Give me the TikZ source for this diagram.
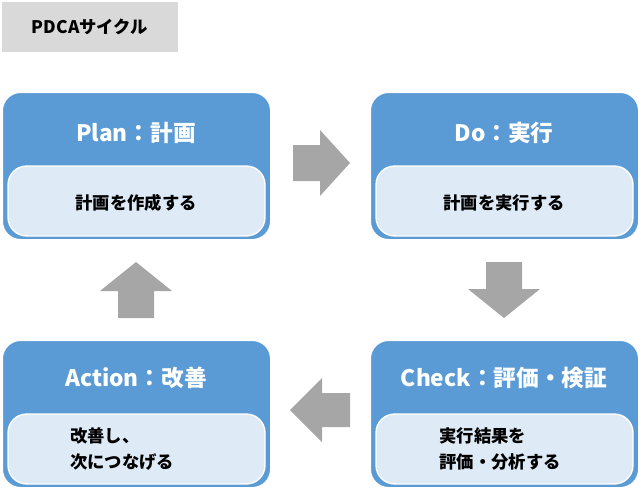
\documentclass[tikz,border=0pt]{standalone}
\usepackage{fontspec}
\setmainfont{Noto Sans CJK JP}
\usetikzlibrary{shapes.arrows}
\definecolor{bb}{HTML}{5B9BD5}
\definecolor{lb}{HTML}{DEEBF7}
\definecolor{ga}{HTML}{A6A6A6}
\definecolor{gt}{HTML}{D9D9D9}
\begin{document}
\begin{tikzpicture}[x=0.75pt,y=-0.75pt,
 outer/.style={draw=white,line width=1.5pt,fill=bb,rounded corners=14pt},
 inner/.style={draw=white,line width=1pt,fill=lb,rounded corners=14pt},
 ttl/.style={text=white,font=\bfseries\fontsize{17}{19}\selectfont},
 body/.style={text=black,font=\bfseries\fontsize{13}{19}\selectfont,align=left},
 arr/.style={fill=ga,draw=none}]
\useasboundingbox (0,0) rectangle (641,489);
\fill[gt] (2,2) rectangle (178,52);
\node[font=\bfseries\fontsize{13}{15}\selectfont] (t) at (90,27) {PDCAサイクル};
\foreach \n/\x/\y in {p/2/92,d/370/92,c/370/340,a/2/340}{
 \draw[outer] (\x,\y) rectangle ++(269,148);
 \draw[inner] (\x+6,\y+74) rectangle ++(257,70);
}
\node[ttl] (pt) at (136,133) {Plan：計画};
\node[body] (pb) at (136,203) {計画を作成する};
\node[ttl] (dt) at (504,133) {Do：実行};
\node[body] (db) at (504,203) {計画を実行する};
\node[ttl] (ct) at (504,378) {Check：評価・検証};
\node[body] (cb) at (500,449) {実行結果を\\評価・分析する};
\node[ttl] (at) at (136,378) {Action：改善};
\node[body] (ab) at (122,449) {改善し、\\次につなげる};
\fill[arr] (293,145)--(320,145)--(320,130)--(350,163)--(320,196)--(320,181)--(293,181)--cycle;
\fill[arr] (486,262)--(522,262)--(522,289)--(540,289)--(504,318)--(468,289)--(486,289)--cycle;
\fill[arr] (350,393)--(322,393)--(322,378)--(290,410)--(322,442)--(322,427)--(350,427)--cycle;
\fill[arr] (118,318)--(154,318)--(154,291)--(172,291)--(136,262)--(100,291)--(118,291)--cycle;
\end{tikzpicture}
\end{document}
